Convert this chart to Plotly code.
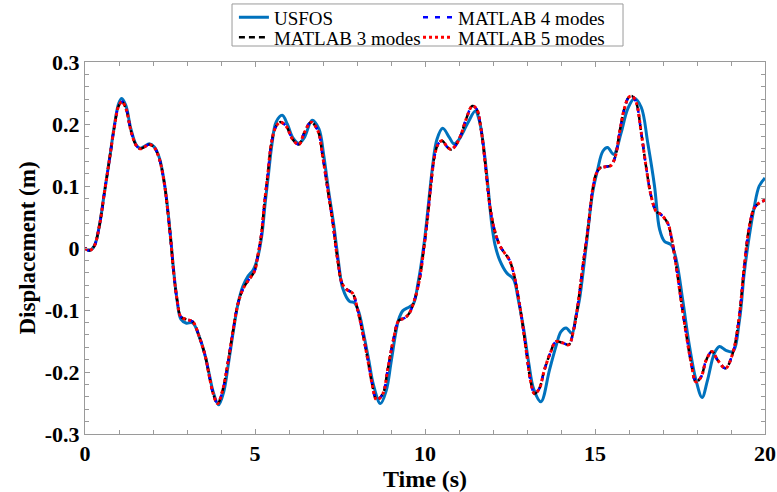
import plotly.graph_objects as go

# ---- data ----
matlab_t = [0.00, 0.13, 0.27, 0.42, 0.57, 0.72, 0.86, 0.99, 1.09, 1.21, 1.35, 1.50, 1.62, 1.75, 1.89,
            2.04, 2.19, 2.33, 2.43, 2.53, 2.61, 2.71, 2.82, 2.97, 3.17, 3.36, 3.54, 3.66, 3.77, 3.90,
            4.05, 4.20, 4.34, 4.49, 4.64, 4.78, 4.98, 5.08, 5.18, 5.28, 5.38, 5.47, 5.60, 5.74, 5.91,
            6.11, 6.29, 6.45, 6.65, 6.85, 6.99, 7.14, 7.29, 7.43, 7.56, 7.70, 7.87, 8.02, 8.17, 8.32,
            8.44, 8.58, 8.76, 8.90, 9.07, 9.23, 9.40, 9.54, 9.69, 9.84, 9.98, 10.08, 10.18, 10.28,
            10.38, 10.50, 10.67, 10.77, 10.92, 11.06, 11.21, 11.39, 11.52, 11.65, 11.78, 11.91, 12.04,
            12.19, 12.34, 12.48, 12.63, 12.76, 12.88, 13.00, 13.10, 13.22, 13.36, 13.51, 13.68, 13.85,
            14.05, 14.23, 14.37, 14.49, 14.64, 14.79, 14.93, 15.03, 15.15, 15.31, 15.47, 15.60, 15.72,
            15.86, 15.99, 16.09, 16.21, 16.36, 16.50, 16.65, 16.80, 16.94, 17.14, 17.24, 17.39, 17.53,
            17.68, 17.83, 17.97, 18.12, 18.27, 18.44, 18.61, 18.84, 19.05, 19.23, 19.39, 19.54, 19.69,
            19.84, 20.00]

matlab3_disp = [0.000, -0.004, 0.003, 0.035, 0.089, 0.143, 0.194, 0.229, 0.236, 0.224, 0.189, 0.166,
                0.160, 0.163, 0.167, 0.162, 0.143, 0.105, 0.062, 0.008, -0.040, -0.084, -0.111, -0.115,
                -0.119, -0.143, -0.175, -0.208, -0.235, -0.251, -0.229, -0.186, -0.138, -0.092, -0.067,
                -0.054, -0.038, -0.013, 0.019, 0.073, 0.121, 0.165, 0.194, 0.203, 0.197, 0.175, 0.167,
                0.186, 0.203, 0.189, 0.148, 0.094, 0.040, -0.019, -0.057, -0.067, -0.073, -0.100, -0.138,
                -0.181, -0.218, -0.245, -0.235, -0.197, -0.148, -0.117, -0.113, -0.105, -0.084, -0.050,
                0.005, 0.051, 0.105, 0.148, 0.167, 0.173, 0.162, 0.159, 0.167, 0.183, 0.208, 0.229, 0.224,
                0.191, 0.132, 0.067, 0.030, 0.005, -0.008, -0.019, -0.046, -0.084, -0.127, -0.175, -0.213,
                -0.235, -0.227, -0.197, -0.170, -0.151, -0.153, -0.156, -0.132, -0.094, -0.030, 0.030,
                0.094, 0.119, 0.129, 0.131, 0.133, 0.148, 0.186, 0.224, 0.243, 0.245, 0.235, 0.186, 0.132,
                0.084, 0.059, 0.054, 0.040, 0.019, -0.030, -0.084, -0.138, -0.186, -0.216, -0.208, -0.181,
                -0.167, -0.181, -0.194, -0.170, -0.116, -0.030, 0.035, 0.065, 0.073, 0.077]

# the 4- and 5-mode MATLAB curves lie on top of the 3-mode curve in the picture
matlab4_disp = list(matlab3_disp)
matlab5_disp = list(matlab3_disp)

usfos_t = [0.00, 0.13, 0.27, 0.42, 0.57, 0.72, 0.86, 0.99, 1.08, 1.20, 1.35, 1.50, 1.62, 1.75, 1.89,
           2.04, 2.19, 2.33, 2.43, 2.53, 2.61, 2.71, 2.82, 2.97, 3.17, 3.36, 3.54, 3.66, 3.77, 3.93,
           4.08, 4.22, 4.36, 4.50, 4.64, 4.80, 4.95, 5.08, 5.20, 5.30, 5.40, 5.50, 5.62, 5.80, 5.95,
           6.11, 6.29, 6.45, 6.68, 6.88, 7.02, 7.16, 7.31, 7.45, 7.58, 7.78, 7.92, 8.05, 8.20, 8.35,
           8.48, 8.69, 8.86, 9.00, 9.13, 9.22, 9.35, 9.54, 9.66, 9.80, 9.98, 10.10, 10.22, 10.35,
           10.52, 10.72, 10.85, 11.00, 11.15, 11.29, 11.48, 11.60, 11.72, 11.85, 11.96, 12.06, 12.20,
           12.40, 12.60, 12.75, 12.90, 13.05, 13.20, 13.41, 13.66, 13.85, 14.00, 14.15, 14.32, 14.44,
           14.54, 14.74, 14.93, 15.08, 15.23, 15.37, 15.55, 15.77, 15.96, 16.16, 16.36, 16.55, 16.75,
           16.90, 17.04, 17.24, 17.39, 17.58, 17.78, 17.97, 18.15, 18.31, 18.51, 18.66, 18.85, 19.05,
           19.25, 19.39, 19.54, 19.68, 19.83, 20.00]

usfos_disp = [0.000, -0.004, 0.003, 0.035, 0.089, 0.143, 0.196, 0.233, 0.241, 0.230, 0.192, 0.167,
              0.161, 0.164, 0.168, 0.163, 0.145, 0.107, 0.064, 0.010, -0.038, -0.085, -0.115, -0.121,
              -0.121, -0.143, -0.175, -0.205, -0.232, -0.253, -0.232, -0.186, -0.135, -0.090, -0.062,
              -0.045, -0.035, -0.015, 0.020, 0.073, 0.121, 0.168, 0.203, 0.214, 0.200, 0.178, 0.169,
              0.178, 0.206, 0.192, 0.150, 0.094, 0.040, -0.020, -0.065, -0.086, -0.088, -0.103, -0.140,
              -0.182, -0.220, -0.251, -0.230, -0.185, -0.140, -0.116, -0.101, -0.095, -0.090, -0.055,
              0.010, 0.070, 0.130, 0.175, 0.193, 0.178, 0.168, 0.175, 0.190, 0.205, 0.221, 0.205, 0.165,
              0.100, 0.040, 0.005, -0.020, -0.040, -0.050, -0.085, -0.130, -0.185, -0.228, -0.248,
              -0.197, -0.159, -0.135, -0.129, -0.138, -0.110, -0.084, 0.003, 0.089, 0.127, 0.156, 0.162,
              0.151, 0.186, 0.224, 0.241, 0.227, 0.170, 0.100, 0.030, 0.011, 0.005, -0.019, -0.084,
              -0.159, -0.213, -0.241, -0.213, -0.170, -0.159, -0.165, -0.167, -0.116, -0.040, 0.020,
              0.065, 0.100, 0.113]

x_tick_vals = [0, 5, 10, 15, 20]
x_tick_text = ["0", "5", "10", "15", "20"]
y_tick_vals = [0.3, 0.2, 0.1, 0, -0.1, -0.2, -0.3]
y_tick_text = ["0.3", "0.2", "0.1", "0", "-0.1", "-0.2", "-0.3"]

FONT = "Liberation Serif"
FRAME = "#9a9a9a"

fig = go.Figure()
fig.add_trace(go.Scatter(x=usfos_t, y=usfos_disp, name="USFOS", mode="lines", legend="legend",
                         line=dict(color="#0072BD", width=3, shape="spline")))
fig.add_trace(go.Scatter(x=matlab_t, y=matlab3_disp, name="MATLAB 3 modes", mode="lines", legend="legend2",
                         line=dict(color="black", width=2.5, dash="6px,4px", shape="spline")))
fig.add_trace(go.Scatter(x=matlab_t, y=matlab4_disp, name="MATLAB 4 modes", mode="lines", legend="legend3",
                         line=dict(color="#0000FF", width=2.5, dash="5px,7px", shape="spline")))
fig.add_trace(go.Scatter(x=matlab_t, y=matlab5_disp, name="MATLAB 5 modes", mode="lines", legend="legend4",
                         line=dict(color="#FF0000", width=3, dash="3px,3px", shape="spline")))

axis_common = dict(showline=True, linecolor=FRAME, linewidth=1, mirror="ticks", ticks="inside",
                   ticklen=5, tickcolor=FRAME, showgrid=False, zeroline=False,
                   tickfont=dict(family=FONT, size=22, color="black", weight="bold"))

fig.update_xaxes(range=[0, 20], tickvals=x_tick_vals, ticktext=x_tick_text,
                 minor=dict(dtick=1, ticks="inside", ticklen=4, tickcolor=FRAME, showgrid=False),
                 title=dict(text="<b>Time (s)</b>", font=dict(family=FONT, size=24, color="black"), standoff=1),
                 **axis_common)
fig.update_yaxes(range=[-0.3, 0.3], tickvals=y_tick_vals, ticktext=y_tick_text, ticklabelstandoff=0,
                 minor=dict(dtick=0.02, ticks="inside", ticklen=4, tickcolor=FRAME, showgrid=False),
                 title=dict(text="<b>Displacement (m)</b>", font=dict(family=FONT, size=23, color="black"), standoff=2),
                 **axis_common)

legend_common = dict(orientation="v", xref="paper", yref="paper", xanchor="left", yanchor="middle",
                     bgcolor="rgba(0,0,0,0)", borderwidth=0, itemwidth=30,
                     font=dict(family=FONT, size=19, color="black"))

fig.update_layout(
    width=777, height=492,
    showlegend=True,
    margin=dict(l=85, r=12, t=62, b=58, autoexpand=False),
    paper_bgcolor="white", plot_bgcolor="white",
    legend=dict(x=0.219, y=1.1196, **legend_common),
    legend2=dict(x=0.219, y=1.0659, **legend_common),
    legend3=dict(x=0.4897, y=1.1196, **legend_common),
    legend4=dict(x=0.4897, y=1.0659, **legend_common),
    shapes=[dict(type="rect", xref="paper", yref="paper", x0=0.2162, x1=0.7912, y0=1.043, y1=1.156,
                 line=dict(color=FRAME, width=1), fillcolor="rgba(0,0,0,0)", layer="below")],
)

fig.write_html("out.html", config={"displayModeBar": False},
               post_script="document.body.style.margin='0px';")
